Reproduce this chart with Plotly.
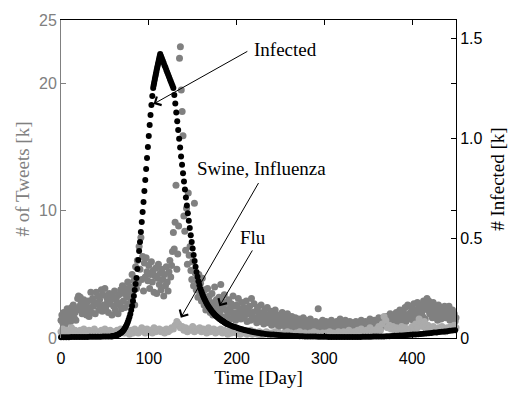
import plotly.graph_objects as go

# ---- data ---------------------------------------------------------------
# Daily tweet counts (thousands) mentioning "flu"
flu_day = list(range(0, 451))
flu_tweets = [
    1.4, 1.8, 1.2, 2.0, 1.6, 1.1, 1.9, 2.3, 1.5, 1.7,
    2.1, 1.3, 2.4, 1.8, 2.6, 1.6, 2.0, 1.4, 2.2, 3.1,
    3.3, 2.5, 3.2, 2.8, 1.9, 2.3, 3.0, 2.1, 2.6, 1.8,
    2.2, 2.9, 1.7, 2.4, 3.6, 2.0, 3.1, 2.5, 2.8, 1.9,
    3.6, 2.7, 3.3, 2.2, 3.0, 2.5, 3.8, 2.1, 3.4, 2.6,
    3.9, 2.4, 3.2, 2.9, 2.0, 3.5, 2.7, 3.0, 1.8, 3.3,
    2.5, 3.7, 2.2, 3.1, 2.8, 1.9, 3.4, 2.6, 3.8, 2.3,
    4.1, 2.9, 3.5, 2.4, 3.9, 3.2, 4.4, 2.7, 3.6, 4.0,
    3.1, 5.0, 3.7, 4.5, 2.6, 5.6, 3.9, 6.1, 4.3, 7.2,
    5.4, 7.9, 4.6, 6.4, 3.7, 5.9, 4.8, 6.3, 5.2, 4.5,
    5.7, 3.9, 5.0, 6.0, 4.4, 5.3, 3.6, 4.9, 5.5, 3.5,
    4.7, 5.8, 4.2, 5.1, 3.8, 5.4, 4.6, 3.3, 5.0, 4.1,
    5.6, 4.4, 3.7, 5.2, 6.1, 4.8, 5.7, 6.8, 8.3, 7.0,
    9.1, 12.0, 5.4, 6.6, 8.8, 22.0, 22.9, 19.5, 17.8, 15.9,
    9.6, 8.4, 6.9, 10.2, 5.8, 11.4, 6.5, 7.2, 5.3, 4.6,
    6.0, 4.1, 10.6, 5.1, 3.8, 4.5, 3.2, 5.0, 3.6, 4.3,
    2.9, 4.7, 3.4, 2.6, 3.8, 2.2, 3.1, 3.9, 2.5, 3.3,
    2.0, 2.8, 3.5, 1.8, 2.7, 4.0, 2.3, 3.0, 1.9, 2.6,
    3.2, 2.1, 4.2, 1.7, 2.9, 2.4, 3.4, 1.6, 2.2, 2.8,
    1.9, 3.0, 2.3, 1.5, 2.7, 2.0, 3.3, 1.8, 2.5, 1.4,
    2.6, 2.0, 3.1, 1.7, 2.3, 1.5, 2.8, 2.1, 1.6, 2.4,
    1.8, 2.9, 1.3, 2.2, 1.9, 2.5, 1.4, 3.1, 2.0, 1.6,
    2.7, 1.5, 2.1, 1.2, 2.4, 1.7, 2.0, 1.3, 2.6, 1.6,
    1.9, 1.1, 2.2, 1.5, 1.8, 2.4, 1.2, 1.7, 1.4, 2.1,
    1.0, 1.6, 1.9, 1.3, 2.2, 1.1, 1.5, 1.8, 0.9, 1.4,
    1.7, 1.2, 2.0, 1.0, 1.4, 1.6, 0.8, 1.3, 1.9, 1.1,
    1.5, 0.9, 1.2, 1.7, 1.0, 1.4, 0.8, 1.6, 1.1, 1.3,
    0.9, 1.5, 1.1, 0.7, 1.3, 1.0, 1.6, 0.8, 1.2, 1.4,
    1.0, 0.7, 1.3, 0.9, 1.5, 1.1, 0.8, 1.2, 1.0, 0.6,
    1.3, 0.9, 1.1, 2.3, 0.8, 1.2, 0.7, 1.0, 1.4, 0.9,
    1.1, 0.6, 1.3, 0.8, 1.0, 1.2, 0.7, 0.9, 1.4, 1.0,
    0.8, 1.2, 0.6, 1.0, 1.3, 0.7, 1.1, 0.9, 1.5, 0.8,
    1.0, 0.6, 1.2, 0.9, 1.4, 0.7, 1.1, 0.8, 1.0, 1.3,
    0.7, 1.0, 1.2, 0.8, 1.1, 0.6, 1.3, 0.9, 1.0, 0.7,
    1.2, 0.9, 1.4, 0.8, 1.1, 1.0, 0.7, 1.3, 0.9, 1.2,
    0.8, 1.1, 1.5, 0.9, 1.2, 0.7, 1.0, 1.4, 1.1, 0.9,
    1.3, 1.0, 1.6, 0.8, 1.2, 1.5, 0.9, 1.1, 1.4, 1.0,
    1.7, 1.2, 0.9, 1.5, 1.3, 1.9, 1.1, 1.6, 1.0, 1.4,
    1.8, 1.2, 2.0, 1.5, 1.1, 1.7, 2.2, 1.4, 1.9, 1.3,
    2.1, 1.6, 2.4, 1.3, 1.8, 2.6, 1.5, 2.5, 2.0, 1.7,
    2.3, 1.4, 2.7, 1.9, 1.6, 2.2, 2.8, 1.5, 2.4, 1.8,
    2.6, 2.0, 1.7, 2.9, 2.3, 1.5, 2.5, 3.1, 2.2, 2.9,
    1.9, 2.7, 2.4, 1.6, 2.8, 2.1, 2.5, 1.8, 2.3, 1.4,
    2.6, 1.9, 2.2, 1.5, 2.4, 1.7, 2.0, 2.5, 1.6, 2.1,
    1.8, 2.3, 2.5, 1.4, 2.0, 1.7, 2.2, 1.5, 1.9, 1.3,
    1.6,
]

# Tweet counts (thousands) mentioning "swine" or "influenza", every 2nd day
swine_day = list(range(0, 451, 2))
swine_tweets = [
    0.5, 0.7, 0.4, 0.6, 0.3, 0.5, 0.8, 0.4, 0.6, 0.5,
    0.3, 0.6, 0.4, 0.7, 0.5, 0.3, 0.6, 0.4, 0.5, 0.7,
    0.4, 0.5, 0.3, 0.6, 0.4, 0.7, 0.5, 0.3, 0.6, 0.4,
    0.5, 0.3, 0.6, 0.4, 0.7, 0.5, 0.4, 0.6, 0.5, 0.3,
    0.6, 0.4, 0.7, 0.5, 0.4, 0.6, 0.8, 0.5, 0.4, 0.7,
    0.5, 0.6, 0.4, 0.8, 0.5, 0.6, 0.7, 0.5, 0.6, 0.4,
    0.7, 0.5, 0.6, 0.8, 0.7, 1.0, 1.3, 1.1, 0.8, 0.9,
    0.6, 0.8, 0.5, 0.7, 0.6, 0.9, 0.5, 0.7, 0.6, 0.8,
    0.5, 0.7, 0.6, 0.4, 0.8, 0.5, 0.6, 0.7, 0.4, 0.6,
    0.5, 0.7, 0.4, 0.6, 0.5, 0.3, 0.6, 0.4, 0.5, 0.7,
    0.4, 0.5, 0.3, 0.6, 0.4, 0.5, 0.3, 0.4, 0.6, 0.3,
    0.5, 0.4, 0.3, 0.5, 0.2, 0.4, 0.3, 0.5, 0.4, 0.2,
    0.4, 0.3, 0.5, 0.2, 0.4, 0.3, 0.2, 0.4, 0.3, 0.5,
    0.2, 0.4, 0.3, 0.2, 0.4, 0.3, 0.5, 0.2, 0.3, 0.4,
    0.3, 0.2, 0.4, 0.3, 0.5, 0.2, 0.4, 0.3, 0.2, 0.4,
    0.3, 0.4, 0.2, 0.5, 0.3, 0.4, 0.2, 0.3, 0.5, 0.4,
    0.3, 0.5, 0.4, 0.2, 0.6, 0.3, 0.4, 0.5, 0.3, 0.6,
    0.4, 0.7, 0.5, 0.3, 0.6, 0.4, 0.8, 0.5, 0.6, 0.4,
    0.7, 0.9, 0.6, 1.1, 1.7, 1.4, 0.8, 1.0, 0.7, 0.9,
    0.6, 0.8, 0.5, 0.7, 0.9, 0.6, 0.8, 0.5, 0.7, 0.6,
    0.9, 0.7, 1.1, 0.8, 1.5, 1.2, 0.9, 1.3, 0.7, 1.0,
    0.8, 0.6, 0.9, 0.7, 0.5, 0.8, 0.6, 0.9, 0.7, 0.5,
    0.8, 0.6, 0.9, 0.7, 1.0, 0.8,
]

# Simulated number of infected (thousands), at the solver's output times
infected_day = (
    list(range(0, 58, 3))                      # quiet start
    + list(range(58, 106))                     # onset and rising flank
    + [105.5, 106, 106.5, 107, 107.5, 108, 108.5, 109, 109.5,
       110, 110.5, 111, 111.5, 112, 112.5, 113]  # approach to the peak
    + list(range(114, 129))                    # just past the peak
    + [129.1, 130.2, 131.3, 132.4, 133.5, 134.6, 135.7, 136.8, 137.9,
       139.0, 140.1, 141.2, 142.3, 143.4, 144.5, 145.6, 146.7, 147.8,
       148.9, 150.0, 151.1, 152.2, 153.3, 154.4, 155.5, 156.6, 157.7,
       158.8]                                  # falling flank
    + list(range(160, 191))                    # decay
    + list(range(192, 231, 2))
    + list(range(233, 451, 3))                 # long tail
)
infected = [
    # 0-57
    0.004, 0.004, 0.004, 0.004, 0.005, 0.005, 0.005, 0.005, 0.005, 0.005,
    0.005, 0.006, 0.006, 0.006, 0.006, 0.006, 0.007, 0.007, 0.008, 0.008,
    # 58-105
    0.009, 0.009, 0.010, 0.011, 0.012, 0.013, 0.015, 0.017, 0.019, 0.022,
    0.025, 0.029, 0.033, 0.038, 0.044, 0.051, 0.059, 0.068, 0.079, 0.091,
    0.105, 0.120, 0.140, 0.160, 0.185, 0.210, 0.240, 0.270,
    0.300, 0.345, 0.390, 0.435, 0.480, 0.530, 0.580, 0.630, 0.680, 0.735,
    0.790, 0.845, 0.900, 0.955, 1.010, 1.065, 1.115, 1.165, 1.210, 1.250,
    # 105.5-113
    1.262, 1.274, 1.285, 1.296, 1.307, 1.318, 1.329, 1.340, 1.350, 1.360,
    1.370, 1.380, 1.390, 1.400, 1.410, 1.420,
    # 114-128
    1.409, 1.397, 1.386, 1.375, 1.363, 1.352, 1.340, 1.329, 1.318, 1.306,
    1.295, 1.284, 1.272, 1.261, 1.250,
    # 129.1-158.8
    1.215, 1.172, 1.128, 1.084, 1.040, 0.996, 0.952, 0.908, 0.866, 0.824,
    0.782, 0.742, 0.702, 0.662, 0.624, 0.586, 0.550, 0.514, 0.480, 0.447,
    0.415, 0.385, 0.356, 0.330, 0.306, 0.284, 0.264, 0.246,
    # 160-190
    0.232, 0.220, 0.209, 0.199, 0.190, 0.181, 0.173, 0.165, 0.158, 0.151,
    0.145, 0.139, 0.133, 0.128, 0.123, 0.118, 0.113, 0.109, 0.105, 0.101,
    0.097, 0.094, 0.091, 0.088, 0.085, 0.082, 0.079, 0.076, 0.073, 0.071,
    0.069,
    # 192-230
    0.065, 0.061, 0.058, 0.055, 0.052, 0.049, 0.046, 0.044, 0.041, 0.039,
    0.037, 0.035, 0.033, 0.031, 0.029, 0.028, 0.026, 0.025, 0.023, 0.022,
    # 233-449
    0.020, 0.019, 0.018, 0.017, 0.016, 0.015, 0.014, 0.013, 0.012, 0.012,
    0.011, 0.010, 0.010, 0.009, 0.009, 0.008, 0.008, 0.007, 0.007, 0.007,
    0.006, 0.006, 0.006, 0.006, 0.005, 0.005, 0.005, 0.005, 0.005, 0.005,
    0.005, 0.005, 0.005, 0.005, 0.005, 0.005, 0.005, 0.006, 0.006, 0.006,
    0.006, 0.007, 0.007, 0.007, 0.008, 0.008, 0.009, 0.009, 0.010, 0.011,
    0.011, 0.012, 0.013, 0.014, 0.015, 0.016, 0.017, 0.018, 0.019, 0.020,
    0.021, 0.023, 0.024, 0.025, 0.027, 0.028, 0.030, 0.031, 0.033, 0.034,
    0.036, 0.037, 0.039,
]

assert len(flu_day) == len(flu_tweets)
assert len(swine_day) == len(swine_tweets)
assert len(infected_day) == len(infected), (len(infected_day), len(infected))

x_ticks = [0, 100, 200, 300, 400]
tweet_ticks = [0, 10, 20, 25]
infected_ticks = [0, 0.5, 1.0, 1.5]
infected_tick_text = ["0", "0.5", "1.0", "1.5"]

X_RANGE = [0, 450]
TWEET_RANGE = [0, 25]
INF_RANGE = [0, 1.59]

# ---- styling ------------------------------------------------------------
DARK_GRAY = "#808080"
LIGHT_GRAY = "#ababab"
AXIS_GRAY = "#808080"
SANS = "Liberation Sans, Arial, sans-serif"
SERIF = "Liberation Serif, Times New Roman, serif"

fig = go.Figure()

fig.add_trace(go.Scatter(
    x=flu_day, y=flu_tweets, mode="markers", name="Flu",
    marker=dict(color=DARK_GRAY, size=7, line=dict(width=0)),
    cliponaxis=False, yaxis="y",
))
fig.add_trace(go.Scatter(
    x=swine_day, y=swine_tweets, mode="markers", name="Swine, Influenza",
    marker=dict(color=LIGHT_GRAY, size=7, line=dict(width=0)),
    cliponaxis=False, yaxis="y",
))
fig.add_trace(go.Scatter(
    x=infected_day, y=infected, mode="markers", name="Infected",
    marker=dict(color="black", size=6, line=dict(width=0)),
    cliponaxis=False, yaxis="y2",
))

# right-axis ticks that line up with the left-axis ticks (plotyy style)
shared_ticks = [v / TWEET_RANGE[1] * INF_RANGE[1] for v in (10, 20)]

fig.update_layout(
    width=517, height=395,
    margin=dict(l=61, r=54, t=13, b=52),
    paper_bgcolor="white", plot_bgcolor="white",
    showlegend=False,
    xaxis=dict(
        range=X_RANGE, tickvals=x_ticks,
        showgrid=False, zeroline=False,
        showline=True, linecolor="black", linewidth=1, mirror="ticks",
        ticks="inside", ticklen=5, tickcolor="black",
        tickfont=dict(family=SANS, size=16, color="black"),
        ticklabelstandoff=6,
        title=dict(text="Time [Day]", font=dict(family=SERIF, size=19, color="black"), standoff=2),
    ),
    yaxis=dict(
        range=TWEET_RANGE, tickvals=tweet_ticks,
        showgrid=False, zeroline=False,
        showline=True, linecolor=AXIS_GRAY, linewidth=1,
        ticks="inside", ticklen=5, tickcolor=AXIS_GRAY,
        tickfont=dict(family=SANS, size=16, color=AXIS_GRAY),
        title=dict(text="# of Tweets [k]", font=dict(family=SERIF, size=19, color=AXIS_GRAY), standoff=4),
    ),
    yaxis2=dict(
        range=INF_RANGE, tickvals=infected_ticks, ticktext=infected_tick_text,
        overlaying="y", side="right",
        showgrid=False, zeroline=False,
        showline=True, linecolor="black", linewidth=1,
        ticks="inside", ticklen=5, tickcolor="black",
        minor=dict(tickvals=shared_ticks, ticks="inside", ticklen=5, tickcolor="black"),
        tickfont=dict(family=SANS, size=16, color="black"),
        title=dict(text="# Infected [k]", font=dict(family=SERIF, size=19, color="black"), standoff=9),
    ),
)

label_font = dict(family=SERIF, size=19, color="black")

# series labels with arrows pointing at their marks
callouts = [
    # text, text x, text y, arrow tail (x, y), arrow tip (x, y)
    ("Infected", 218, 22.7, (214, 22.6), (105.5, 18.4)),
    ("Swine, Influenza", 153, 13.3, (226, 12.3), (136.5, 1.6)),
    ("Flu", 202, 7.9, (219, 7.0), (180.5, 2.5)),
]
for text, tx, ty, (ax, ay), (hx, hy) in callouts:
    fig.add_annotation(
        x=tx, y=ty, xref="x", yref="y", text=text, showarrow=False,
        xanchor="left", yanchor="middle", font=label_font,
    )
    fig.add_annotation(
        x=hx, y=hy, xref="x", yref="y", ax=ax, ay=ay, axref="x", ayref="y",
        text="", showarrow=True, arrowhead=4, arrowsize=1.9, arrowwidth=1,
        arrowcolor="black",
    )

fig.write_html("out.html")
